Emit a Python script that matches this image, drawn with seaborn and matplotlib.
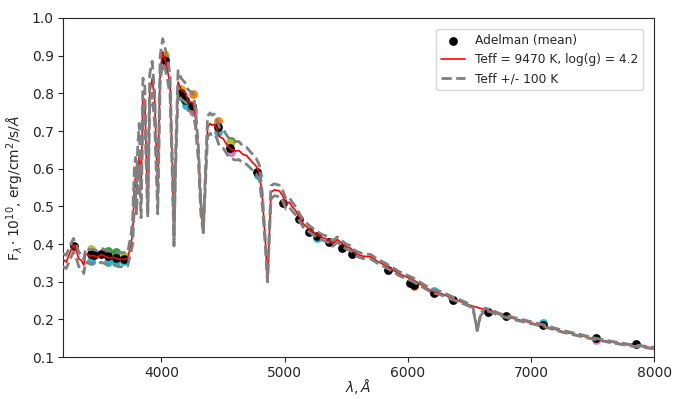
import numpy as np
import pandas as pd
import matplotlib
matplotlib.use("Agg")
import matplotlib.pyplot as plt
import seaborn as sns

# ---------------------------------------------------------------
# model spectra (wavelength in A, flux in 1e-10 erg/cm2/s/A)
# ---------------------------------------------------------------
wl = [3200, 3227, 3254, 3286, 3313, 3330, 3350, 3370, 3385, 3420,
      3445, 3480, 3510, 3540, 3578, 3610, 3650, 3686, 3726, 3754,
      3767, 3780, 3790, 3798, 3808, 3820, 3835, 3850, 3865, 3889,
      3905, 3925, 3945, 3970, 3990, 4010, 4030, 4050, 4070, 4090,
      4102, 4115, 4135, 4160, 4200, 4215, 4255, 4275, 4300, 4320,
      4340, 4360, 4375, 4395, 4410, 4430, 4450, 4470, 4500, 4537,
      4565, 4600, 4630, 4660, 4690, 4727, 4768, 4795, 4820, 4845,
      4861, 4875, 4889, 4916, 4957, 4984, 5011, 5038, 5060, 5090,
      5119, 5150, 5200, 5260, 5300, 5350, 5389, 5429, 5460, 5500,
      5540, 5573, 5630, 5700, 5754, 5790, 5850, 5930, 6038, 6133,
      6200, 6260, 6349, 6430, 6498, 6530, 6563, 6590, 6627, 6680,
      6742, 6850, 7011, 7120, 7254, 7400, 7525, 7650, 7795, 8000]

f_model = [0.360, 0.352, 0.374, 0.399, 0.378, 0.360, 0.357, 0.344, 0.374, 0.368,
           0.370, 0.365, 0.372, 0.368, 0.363, 0.365, 0.360, 0.359, 0.361, 0.401,
           0.432, 0.550, 0.580, 0.540, 0.600, 0.640, 0.550, 0.790, 0.780, 0.500,
           0.800, 0.840, 0.780, 0.550, 0.860, 0.910, 0.890, 0.860, 0.820, 0.600,
           0.400, 0.620, 0.830, 0.810, 0.800, 0.780, 0.775, 0.740, 0.650, 0.520,
           0.440, 0.600, 0.710, 0.720, 0.715, 0.718, 0.705, 0.685, 0.680, 0.660,
           0.651, 0.647, 0.648, 0.638, 0.635, 0.621, 0.607, 0.590, 0.520, 0.400,
           0.300, 0.420, 0.537, 0.544, 0.541, 0.528, 0.506, 0.511, 0.500, 0.488,
           0.472, 0.454, 0.440, 0.425, 0.418, 0.412, 0.401, 0.412, 0.403, 0.393,
           0.388, 0.375, 0.368, 0.366, 0.354, 0.348, 0.337, 0.321, 0.306, 0.287,
           0.274, 0.270, 0.258, 0.247, 0.238, 0.235, 0.232, 0.229, 0.227, 0.222,
           0.213, 0.203, 0.190, 0.181, 0.168, 0.157, 0.148, 0.140, 0.132, 0.124]

f_plus = [0.375, 0.370, 0.392, 0.415, 0.395, 0.378, 0.372, 0.360, 0.388, 0.385,
          0.386, 0.382, 0.389, 0.385, 0.381, 0.383, 0.378, 0.377, 0.378, 0.425,
          0.470, 0.600, 0.630, 0.560, 0.660, 0.720, 0.520, 0.840, 0.820, 0.480,
          0.850, 0.885, 0.800, 0.520, 0.900, 0.945, 0.920, 0.890, 0.850, 0.600,
          0.410, 0.640, 0.860, 0.840, 0.825, 0.810, 0.800, 0.765, 0.660, 0.510,
          0.430, 0.620, 0.740, 0.748, 0.742, 0.745, 0.730, 0.710, 0.705, 0.685,
          0.676, 0.672, 0.672, 0.660, 0.657, 0.643, 0.628, 0.610, 0.530, 0.400,
          0.300, 0.430, 0.555, 0.560, 0.556, 0.542, 0.520, 0.524, 0.512, 0.499,
          0.482, 0.464, 0.449, 0.434, 0.426, 0.420, 0.409, 0.419, 0.410, 0.400,
          0.395, 0.382, 0.375, 0.372, 0.360, 0.354, 0.343, 0.327, 0.311, 0.292,
          0.279, 0.275, 0.262, 0.251, 0.241, 0.230, 0.170, 0.215, 0.230, 0.225,
          0.216, 0.206, 0.193, 0.184, 0.171, 0.160, 0.150, 0.142, 0.134, 0.126]

f_minus = [0.340, 0.335, 0.355, 0.380, 0.358, 0.340, 0.338, 0.322, 0.352, 0.348,
           0.350, 0.345, 0.352, 0.348, 0.343, 0.345, 0.340, 0.340, 0.342, 0.380,
           0.400, 0.500, 0.540, 0.480, 0.560, 0.600, 0.470, 0.760, 0.740, 0.470,
           0.760, 0.800, 0.720, 0.480, 0.830, 0.880, 0.865, 0.835, 0.795, 0.560,
           0.395, 0.600, 0.800, 0.785, 0.775, 0.755, 0.750, 0.715, 0.620, 0.480,
           0.430, 0.580, 0.685, 0.694, 0.690, 0.692, 0.680, 0.660, 0.655, 0.636,
           0.627, 0.623, 0.624, 0.615, 0.612, 0.600, 0.587, 0.570, 0.500, 0.390,
           0.300, 0.410, 0.520, 0.528, 0.526, 0.514, 0.493, 0.498, 0.488, 0.477,
           0.462, 0.445, 0.432, 0.417, 0.411, 0.405, 0.394, 0.405, 0.396, 0.387,
           0.382, 0.369, 0.362, 0.360, 0.349, 0.343, 0.332, 0.316, 0.301, 0.283,
           0.270, 0.266, 0.254, 0.244, 0.235, 0.226, 0.170, 0.210, 0.224, 0.219,
           0.210, 0.200, 0.188, 0.179, 0.166, 0.155, 0.146, 0.138, 0.130, 0.122]

# ---------------------------------------------------------------
# Adelman spectrophotometry
# ---------------------------------------------------------------
adel_wl = [3290, 3425, 3450, 3510, 3570, 3630, 3700, 4030, 4160, 4195,
           4250, 4460, 4560, 4775, 4990, 5120, 5200, 5260, 5360, 5465,
           5550, 5840, 6015, 6050, 6215, 6365, 6650, 6800, 7095, 7530, 7850]
adel_mean = [0.395, 0.374, 0.370, 0.374, 0.367, 0.364, 0.360, 0.889, 0.801, 0.782,
             0.766, 0.711, 0.656, 0.590, 0.508, 0.466, 0.433, 0.421, 0.405, 0.389,
             0.373, 0.330, 0.297, 0.292, 0.269, 0.252, 0.220, 0.208, 0.184, 0.150, 0.134]

# individual observations (shown behind the mean)
obs_cyan_wl = [3430, 3570, 3630, 3700, 4030, 4165, 4200, 4255, 4460, 4565, 4780, 5265, 6215, 7095]
obs_cyan = [0.356, 0.353, 0.352, 0.355, 0.880, 0.790, 0.770, 0.757, 0.697, 0.645, 0.582, 0.416, 0.276, 0.191]
obs_orange_wl = [4255, 4460, 6050]
obs_orange = [0.797, 0.726, 0.288]
obs_green_wl = [3570, 3630, 4565]
obs_green = [0.382, 0.378, 0.673]
obs_olive_wl = [3425, 3700, 4030, 4160, 4560]
obs_olive = [0.386, 0.368, 0.903, 0.812, 0.668]
obs_pink_wl = [4030, 4255, 4565, 7530]
obs_pink = [0.872, 0.750, 0.643, 0.146]

spec = pd.DataFrame({"wl": wl, "model": f_model, "plus": f_plus, "minus": f_minus})
adel = pd.DataFrame({"wl": adel_wl, "flux": adel_mean})

sns.set_style("ticks")
plt.rcParams["font.family"] = ["DejaVu Sans"]

fig, ax = plt.subplots(figsize=(6.83, 3.99), dpi=100)
fig.subplots_adjust(left=0.092, right=0.958, top=0.955, bottom=0.105)

# individual observations
for xs, ys, col in [(obs_cyan_wl, obs_cyan, "tab:cyan"),
                    (obs_orange_wl, obs_orange, "tab:orange"),
                    (obs_green_wl, obs_green, "tab:green"),
                    (obs_olive_wl, obs_olive, "tab:olive"),
                    (obs_pink_wl, obs_pink, "tab:pink")]:
    sns.scatterplot(x=xs, y=ys, color=col, s=40, linewidth=0, ax=ax, zorder=2)

sns.scatterplot(data=adel, x="wl", y="flux", color="black", s=40, linewidth=0,
                ax=ax, zorder=3, label="Adelman (mean)")

sns.lineplot(data=spec, x="wl", y="model", color="red", lw=1.2, sort=False,
             estimator=None, ax=ax, zorder=4, label="Teff = 9470 K, log(g) = 4.2")
sns.lineplot(data=spec, x="wl", y="plus", color="gray", lw=2, ls="--", sort=False,
             estimator=None, ax=ax, zorder=5, label="Teff +/- 100 K")
sns.lineplot(data=spec, x="wl", y="minus", color="gray", lw=2, ls="--", sort=False,
             estimator=None, ax=ax, zorder=5)

ax.set_xlim(3200, 8000)
ax.set_ylim(0.1, 1.0)
ax.set_xticks([4000, 5000, 6000, 7000, 8000])
ax.set_yticks(np.arange(0.1, 1.01, 0.1))
ax.tick_params(labelsize=10, pad=3)
ax.set_xlabel(r"$\lambda, \AA$", fontsize=10)
ax.xaxis.set_label_coords(0.5, -0.058)
ax.set_ylabel(r"F$_\lambda \cdot 10^{10}$, erg/cm$^2$/s/$\AA$", fontsize=10, labelpad=4)

ax.legend(loc="upper right", fontsize=8.8, frameon=True, borderaxespad=0.9)

plt.savefig("out.png", dpi=100)
